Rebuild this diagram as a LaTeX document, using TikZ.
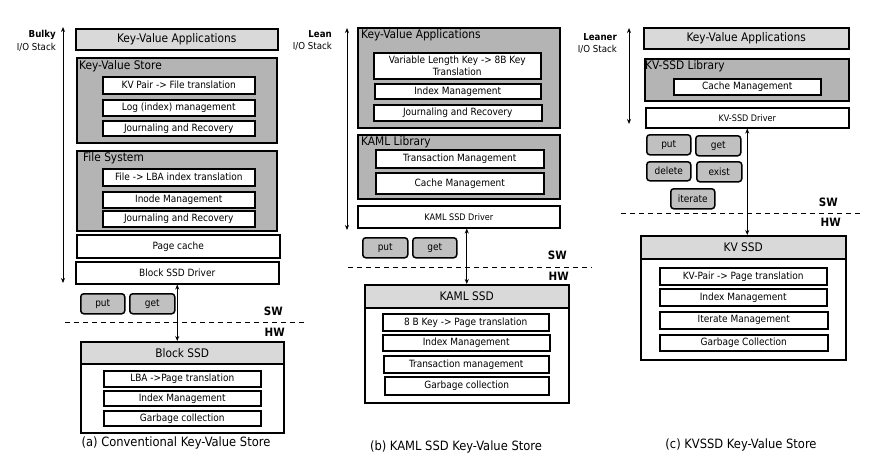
\documentclass[tikz,border=0pt]{standalone}
\usepackage{fontspec}
\setmainfont{DejaVu Sans Condensed}
\usetikzlibrary{arrows.meta}

\tikzset{
    box/.style 2 args={draw, line width=1.5pt, anchor=north west, inner sep=0pt,
        minimum width=#1, minimum height=#2, align=center},
    inbox/.style 2 args={box={#1}{#2}, fill=white, font=\fontsize{10}{11}\selectfont},
    drvbox/.style 2 args={box={#1}{#2}, fill=white, font=\fontsize{9}{10}\selectfont},
    topbox/.style 2 args={box={#1}{#2}, fill=customlight, font=\fontsize{11.8}{13}\selectfont},
    layerbox/.style 2 args={box={#1}{#2}, fill=customdark},
    cmdbox/.style 2 args={box={#1}{#2}, fill=customcmd, rounded corners=3pt, font=\fontsize{10}{11}\selectfont},
    layerlabel/.style={anchor=north west, inner sep=0pt, font=\fontsize{11.8}{13}\selectfont},
    stacklabel/.style={anchor=east, inner sep=0pt, font=\fontsize{9.6}{10}\selectfont, align=right},
    swlabel/.style={anchor=east, inner sep=0pt, font=\fontsize{11.5}{12}\selectfont\bfseries},
    caption/.style={inner sep=0pt, font=\fontsize{12.8}{14}\selectfont},
    stackarrow/.style={line width=0.9pt, {Stealth[length=5pt,width=4pt]}-{Stealth[length=5pt,width=4pt]}},
    swline/.style={line width=0.9pt, dash pattern=on 5pt off 4pt}
}

\begin{document}
\begin{tikzpicture}[x=1pt, y=-1pt]
    % Define colors
    \definecolor{customlight}{RGB}{217, 217, 217}
    \definecolor{customdark}{RGB}{180, 180, 180}
    \definecolor{customcmd}{RGB}{192, 192, 192}

    \useasboundingbox (0,0) rectangle (873,467);

    % ---------- (a) Conventional ----------
    \coordinate (stackAtop) at (63,27);
    \coordinate (stackAbot) at (63,283);
    \node[stacklabel] (bulky) at (56,35) {\textbf{Bulky}};
    \node[stacklabel] (ioA) at (56,47) {I/O Stack};
    \draw[stackarrow] (stackAtop) -- (stackAbot);

    \node[topbox={202}{21}] (appA) at (75,28) {Key-Value Applications};

    \node[layerbox={200}{85}] (kvsA) at (76,57) {};
    \node[layerlabel] (kvsAl) at (79,60) {Key-Value Store};
    \node[inbox={152}{17}] (kvsA1) at (102,76) {KV Pair -> File translation};
    \node[inbox={152}{16}] (kvsA2) at (102,99) {Log (index) management};
    \node[inbox={152}{15}] (kvsA3) at (102,120) {Journaling and Recovery};

    \node[layerbox={200}{80}] (fsA) at (76,150) {};
    \node[layerlabel] (fsAl) at (83,152) {File System};
    \node[inbox={152}{17}] (fsA1) at (102,168) {File -> LBA index translation};
    \node[inbox={152}{16}] (fsA2) at (102,191) {Inode Management};
    \node[inbox={152}{16}] (fsA3) at (102,210) {Journaling and Recovery};

    \node[inbox={203}{23}] (pcA) at (76,234) {Page cache};
    \node[inbox={203}{22}] (drvA) at (75,261) {Block SSD Driver};

    \node[cmdbox={44}{20}] (putA) at (80,293) {put};
    \node[cmdbox={45}{20}] (getA) at (129,293) {get};

    \node[box={203}{91}, fill=white] (ssdA) at (80,341) {};
    \node[topbox={203}{22}] (ssdAh) at (80,341) {Block SSD};
    \node[inbox={157}{16}] (ssdA1) at (103,370) {LBA ->Page translation};
    \node[inbox={157}{15}] (ssdA2) at (103,390) {Index Management};
    \node[inbox={157}{15}] (ssdA3) at (103,410) {Garbage collection};

    \draw[stackarrow] (drvA.south) -- (drvA.south |- ssdA.north);

    \coordinate (swAl) at (65,322);
    \coordinate (swAr) at (307,322);
    \draw[swline] (swAl) -- (swAr);
    \node[swlabel] (swA) at (283,311) {SW};
    \node[swlabel] (hwA) at (285,332) {HW};

    \node[caption] (capA) at (176,443) {(a) Conventional Key-Value Store};

    % ---------- (b) KAML SSD ----------
    \coordinate (stackBtop) at (347,28);
    \coordinate (stackBbot) at (347,230);
    \node[stacklabel] (lean) at (332,34) {\textbf{Lean}};
    \node[stacklabel] (ioB) at (332,46) {I/O Stack};
    \draw[stackarrow] (stackBtop) -- (stackBbot);

    \node[layerbox={202}{100}] (appB) at (357,27) {};
    \node[layerlabel] (appBl) at (361,29) {Key-Value Applications};
    \node[inbox={167}{26}, font=\fontsize{10}{12}\selectfont] (appB1) at (373,52) {Variable Length Key -> 8B Key\\Translation};
    \node[inbox={166}{15}] (appB2) at (374,83) {Index Management};
    \node[inbox={168}{16}] (appB3) at (373,104) {Journaling and Recovery};

    \node[layerbox={202}{64}] (libB) at (357,134) {};
    \node[layerlabel] (libBl) at (361,136) {KAML Library};
    \node[inbox={168}{18}] (libB1) at (375,149) {Transaction Management};
    \node[inbox={168}{21}] (libB2) at (375,172) {Cache Management};

    \node[drvbox={202}{22}] (drvB) at (357,205) {KAML SSD Driver};

    \node[cmdbox={45}{20}] (putB) at (362,237) {put};
    \node[cmdbox={44}{20}] (getB) at (412,237) {get};

    \node[box={204}{118}, fill=white] (ssdB) at (364,284) {};
    \node[topbox={204}{23}] (ssdBh) at (364,284) {KAML SSD};
    \node[inbox={166}{17}] (ssdB1) at (382,313) {8 B Key -> Page translation};
    \node[inbox={167}{16}] (ssdB2) at (382,334) {Index Management};
    \node[inbox={165}{17}] (ssdB3) at (383,355) {Transaction management};
    \node[inbox={164}{18}] (ssdB4) at (384,376) {Garbage collection};

    \draw[stackarrow] (ssdB.north |- drvB.south) -- (ssdB.north);

    \coordinate (swBl) at (348,267);
    \coordinate (swBr) at (592,267);
    \draw[swline] (swBl) -- (swBr);
    \node[swlabel] (swB) at (567,255) {SW};
    \node[swlabel] (hwB) at (569,276) {HW};

    \node[caption] (capB) at (456,447) {(b) KAML SSD Key-Value Store};

    % ---------- (c) KVSSD ----------
    \coordinate (stackCtop) at (629,28);
    \coordinate (stackCbot) at (629,124);
    \node[stacklabel] (leaner) at (617,37) {\textbf{Leaner}};
    \node[stacklabel] (ioC) at (617,49) {I/O Stack};
    \draw[stackarrow] (stackCtop) -- (stackCbot);

    \node[topbox={205}{21}] (appC) at (643,27) {Key-Value Applications};

    \node[layerbox={204}{42}] (libC) at (644,58) {};
    \node[layerlabel] (libCl) at (645,60) {KV-SSD Library};
    \node[inbox={147}{16}] (libC1) at (673,78) {Cache Management};

    \node[drvbox={203}{20}] (drvC) at (645,107) {KV-SSD Driver};

    \node[cmdbox={44}{20}] (putC) at (646,134) {put};
    \node[cmdbox={45}{20}] (getC) at (695,135) {get};
    \node[cmdbox={44}{19}] (delC) at (646,161) {delete};
    \node[cmdbox={45}{20}] (existC) at (696,161) {exist};
    \node[cmdbox={44}{20}] (iterC) at (670,188) {iterate};

    \node[box={205}{124}, fill=white] (ssdC) at (640,235) {};
    \node[topbox={205}{23}] (ssdCh) at (640,235) {KV SSD};
    \node[inbox={167}{17}] (ssdC1) at (659,267) {KV-Pair -> Page translation};
    \node[inbox={167}{17}] (ssdC2) at (659,288) {Index Management};
    \node[inbox={168}{17}] (ssdC3) at (659,311) {Iterate Management};
    \node[inbox={168}{16}] (ssdC4) at (659,334) {Garbage Collection};

    \draw[stackarrow] (drvC.south) -- (drvC.south |- ssdC.north);

    \coordinate (swCl) at (621,213);
    \coordinate (swCr) at (860,213);
    \draw[swline] (swCl) -- (swCr);
    \node[swlabel] (swC) at (838,202) {SW};
    \node[swlabel] (hwC) at (841,222) {HW};

    \node[caption] (capC) at (741,445) {(c) KVSSD Key-Value Store};
\end{tikzpicture}
\end{document}
